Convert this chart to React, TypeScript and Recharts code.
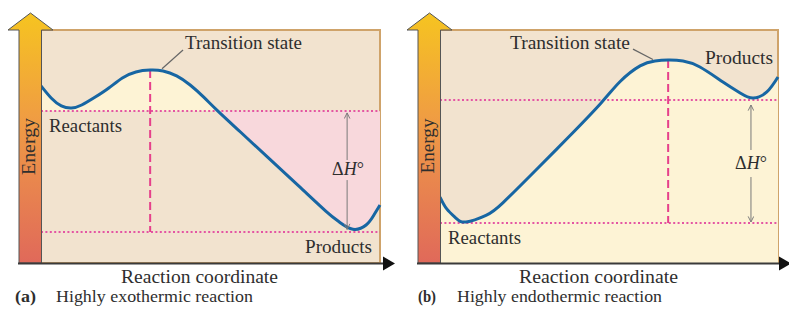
import React from 'react';
import { ComposedChart, Line, Area, XAxis, YAxis, ReferenceLine, ReferenceArea } from 'recharts';

// ---------- Data (reaction coordinate 0..100, energy 0..100 arbitrary units) ----------
const exoX = [0, 3, 6, 9, 12, 16, 20, 24, 28, 32.2, 36, 40, 44, 48, 52.2, 59, 67, 76, 84, 88, 92, 95.9, 98.2, 100];
const exoEnergy = [76, 70.8, 67.4, 66.5, 67.8, 71.2, 75.1, 79.4, 82, 82.8, 82.4, 80.3, 76.4, 71.2, 65.2, 56.0, 45.2, 33.1, 22.3, 17.6, 14.5, 16.3, 20.6, 24.9];
const exoLevels = [65.2, 13.3]; // reactants, products
const exoTransition = [32.2, 82.8]; // x, energy
const exoCrossX = 52.2;
const exoDeltaX = 90.3;

const endoX = [0, 2, 4.7, 7.7, 13.6, 18.6, 28.4, 38.2, 47.6, 53.3, 59.2, 63.6, 67.5, 71.9, 76.9, 83.7, 88.8, 92.6, 96.7, 100];
const endoEnergy = [28.3, 23.2, 19.3, 17.6, 20.4, 25.8, 39.9, 54.3, 68.6, 77.9, 84.6, 86.7, 87.1, 86.7, 84.1, 77.7, 73.0, 70.8, 73.4, 79.8];
const endoLevels = [17.2, 70.0]; // reactants, products
const endoTransition = [67.5, 87.1];
const endoDeltaX = 92.0;

const exoData = exoX.map((x, i) => {
  const e = exoEnergy[i];
  return {
    x,
    e,
    yellow: x <= exoCrossX ? [exoLevels[0], e] : null,
    pink: x >= exoCrossX ? [e, exoLevels[0]] : null,
  };
});
const endoData = endoX.map((x, i) => ({ x, e: endoEnergy[i], under: [0, endoEnergy[i]] }));

// ---------- Styles ----------
const BEIGE = '#f2e3cf';
const YELLOW = '#fdf3d5';
const PINK = '#f8d8dc';
const BLUE = '#1766a3';
const DASH = '#e6408b';
const DOT = '#e455a3';
const TAN = '#cfa36a';
const TEXT = '#2e2e2e';
const FONT = "'Liberation Serif', 'Times New Roman', serif";
const CURVE = 'natural';

const arrowShape = (start: boolean, end: boolean) => (p: any) => (
  <line
    x1={p.x1}
    y1={p.y1}
    x2={p.x2}
    y2={p.y2}
    stroke="#7a7a7a"
    strokeWidth={1}
    markerStart={start ? 'url(#vhead)' : undefined}
    markerEnd={end ? 'url(#vhead)' : undefined}
  />
);

function ExoChart() {
  return (
    <ComposedChart
      width={395}
      height={316}
      data={exoData}
      margin={{ top: 30, left: 41, right: 15, bottom: 53 }}
    >
      <XAxis type="number" dataKey="x" domain={[0, 100]} hide />
      <YAxis type="number" domain={[0, 100]} hide />
      <ReferenceArea x1={0} x2={100} y1={0} y2={100} fill={BEIGE} fillOpacity={1} stroke={TAN} strokeWidth={2} zIndex={-300} />
      <Area dataKey="yellow" type={CURVE} fill={YELLOW} fillOpacity={1} stroke="none" isAnimationActive={false} zIndex={-200} />
      <Area dataKey="pink" type={CURVE} fill={PINK} fillOpacity={1} stroke="none" isAnimationActive={false} zIndex={-200} />
      <ReferenceLine y={exoLevels[0]} stroke={DOT} strokeWidth={2} strokeDasharray="2 2.4" zIndex={50} />
      <ReferenceLine y={exoLevels[1]} stroke={DOT} strokeWidth={2} strokeDasharray="2 2.4" zIndex={50} />
      <ReferenceLine
        segment={[{ x: exoTransition[0], y: exoTransition[1] }, { x: exoTransition[0], y: exoLevels[1] }]}
        stroke={DASH}
        strokeWidth={2}
        strokeDasharray="8 4"
        zIndex={60}
      />
      <Line dataKey="e" type={CURVE} stroke={BLUE} strokeWidth={3} dot={false} activeDot={false} isAnimationActive={false} zIndex={400} />
      <ReferenceLine segment={[{ x: exoDeltaX, y: 64.4 }, { x: exoDeltaX, y: 44.2 }]} shape={arrowShape(true, false)} zIndex={500} />
      <ReferenceLine segment={[{ x: exoDeltaX, y: 35.6 }, { x: exoDeltaX, y: 14.4 }]} shape={arrowShape(false, true)} zIndex={500} />
      <ReferenceLine segment={[{ x: 35.7, y: 83.4 }, { x: 41.9, y: 91.4 }]} stroke="#666" strokeWidth={1.2} zIndex={500} />
    </ComposedChart>
  );
}

function EndoChart() {
  return (
    <ComposedChart
      width={394}
      height={316}
      data={endoData}
      margin={{ top: 30, left: 45, right: 11, bottom: 53 }}
    >
      <XAxis type="number" dataKey="x" domain={[0, 100]} hide />
      <YAxis type="number" domain={[0, 100]} hide />
      <ReferenceArea x1={0} x2={100} y1={0} y2={100} fill={BEIGE} fillOpacity={1} stroke={TAN} strokeWidth={2} zIndex={-300} />
      <Area dataKey="under" type={CURVE} fill={YELLOW} fillOpacity={1} stroke="none" isAnimationActive={false} zIndex={-200} />
      <ReferenceLine y={endoLevels[0]} stroke={DOT} strokeWidth={2} strokeDasharray="2 2.4" zIndex={50} />
      <ReferenceLine y={endoLevels[1]} stroke={DOT} strokeWidth={2} strokeDasharray="2 2.4" zIndex={50} />
      <ReferenceLine
        segment={[{ x: endoTransition[0], y: endoTransition[1] }, { x: endoTransition[0], y: endoLevels[0] }]}
        stroke={DASH}
        strokeWidth={2}
        strokeDasharray="8 4"
        zIndex={60}
      />
      <Line dataKey="e" type={CURVE} stroke={BLUE} strokeWidth={3} dot={false} activeDot={false} isAnimationActive={false} zIndex={400} />
      <ReferenceLine segment={[{ x: endoDeltaX, y: 67.8 }, { x: endoDeltaX, y: 48.5 }]} shape={arrowShape(true, false)} zIndex={500} />
      <ReferenceLine segment={[{ x: endoDeltaX, y: 36.9 }, { x: endoDeltaX, y: 17.6 }]} shape={arrowShape(false, true)} zIndex={500} />
      <ReferenceLine segment={[{ x: 57.1, y: 91.8 }, { x: 63.0, y: 87.3 }]} stroke="#666" strokeWidth={1.2} zIndex={500} />
    </ComposedChart>
  );
}

function EnergyArrow({ x0, x1, hl, hr, tip }: { x0: number; x1: number; hl: number; hr: number; tip: number }) {
  const cx = (hl + hr) / 2;
  return (
    <polygon
      points={`${x0},263 ${x0},30 ${hl},30 ${cx},${tip} ${hr},30 ${x1},30 ${x1},263`}
      fill="url(#energyGrad)"
      stroke="#555"
      strokeWidth={1}
      strokeLinejoin="round"
    />
  );
}

function DeltaH({ cx, y }: { cx: number; y: number }) {
  return (
    <text x={cx} y={y} textAnchor="middle" fontSize={18} fill={TEXT} fontFamily={FONT}>
      Δ<tspan fontStyle="italic">H</tspan>°
    </text>
  );
}

function T({ x, y, w, children, bold, size = 18 }: any) {
  return (
    <text x={x} y={y} fontSize={size} fill={TEXT} fontFamily={FONT} fontWeight={bold ? 'bold' : 'normal'} textLength={w} lengthAdjust="spacingAndGlyphs">
      {children}
    </text>
  );
}

export default function App() {
  return (
    <div style={{ position: 'absolute', left: 0, top: 0, width: 789, height: 316, background: '#fff', overflow: 'hidden' }}>
      <svg width={0} height={0} style={{ position: 'absolute' }}>
        <defs>
          <marker id="vhead" viewBox="0 0 10 10" refX="9" refY="5" markerWidth="7" markerHeight="7" markerUnits="userSpaceOnUse" orient="auto-start-reverse">
            <path d="M1,1 L9,5 L1,9" fill="none" stroke="#7a7a7a" strokeWidth="1.4" />
          </marker>
        </defs>
      </svg>
      <div style={{ position: 'absolute', left: 0, top: 0 }}>
        <ExoChart />
      </div>
      <div style={{ position: 'absolute', left: 395, top: 0 }}>
        <EndoChart />
      </div>
      <svg width={789} height={316} style={{ position: 'absolute', left: 0, top: 0, pointerEvents: 'none' }}>
        <defs>
          <linearGradient id="energyGrad" x1="0" y1="0" x2="0" y2="1">
            <stop offset="0" stopColor="#f6c420" />
            <stop offset="0.45" stopColor="#ef9a45" />
            <stop offset="1" stopColor="#e0695a" />
          </linearGradient>
        </defs>
        {/* panel (a) frame */}
        <EnergyArrow x0={19} x1={41.5} hl={8} hr={53} tip={13} />
        <line x1={18} x2={385} y1={263.5} y2={263.5} stroke="#3a3a3a" strokeWidth={2} />
        <polygon points="383,256.5 395,263.5 383,270.5" fill="#111" />
        <text transform="translate(34.5,146.5) rotate(-90)" textAnchor="middle" fontSize={18} fill={TEXT} fontFamily={FONT} textLength={57} lengthAdjust="spacingAndGlyphs">Energy</text>
        <T x={185} y={49} w={117}>Transition state</T>
        <T x={49} y={132} w={73}>Reactants</T>
        <T x={305} y={253} w={67}>Products</T>
        <DeltaH cx={348} y={175} />
        <T x={121} y={283} w={157}>Reaction coordinate</T>
        <T x={15} y={302} w={21} bold size={17}>(a)</T>
        <T x={56} y={302} w={197} size={17}>Highly exothermic reaction</T>

        {/* panel (b) frame */}
        <EnergyArrow x0={418} x1={440.5} hl={407} hr={452} tip={13} />
        <line x1={417} x2={781} y1={263.5} y2={263.5} stroke="#3a3a3a" strokeWidth={2} />
        <polygon points="779,256.5 791,263.5 779,270.5" fill="#111" />
        <text transform="translate(433.5,146) rotate(-90)" textAnchor="middle" fontSize={18} fill={TEXT} fontFamily={FONT} textLength={55} lengthAdjust="spacingAndGlyphs">Energy</text>
        <T x={510} y={49} w={120}>Transition state</T>
        <T x={705} y={64} w={68}>Products</T>
        <T x={448} y={244} w={73}>Reactants</T>
        <DeltaH cx={751} y={169} />
        <T x={519} y={283} w={159}>Reaction coordinate</T>
        <T x={418} y={302} w={18} bold size={17}>(b)</T>
        <T x={457} y={302} w={205} size={17}>Highly endothermic reaction</T>
      </svg>
    </div>
  );
}
